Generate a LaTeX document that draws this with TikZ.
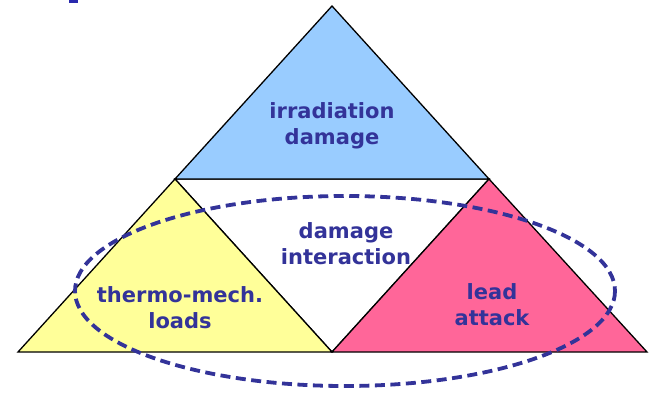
\documentclass[tikz,border=0pt]{standalone}
\usepackage{fontspec}
\setmainfont{DejaVu Sans}
\definecolor{txtblue}{HTML}{333399}
\definecolor{skyfill}{HTML}{99CCFF}
\definecolor{yelfill}{HTML}{FFFF99}
\definecolor{pinkfill}{HTML}{FF6699}
\tikzset{
  tri/.style={draw=black, line width=1.3pt, line join=miter},
  lbl/.style={text=txtblue, font=\fontsize{21}{26}\selectfont\bfseries, align=center},
  ring/.style={draw=txtblue, line width=3.8pt, dash pattern=on 10pt off 5.5pt}
}
\begin{document}
\begin{tikzpicture}[x=1pt,y=-1pt]
\useasboundingbox (0,0) rectangle (654,393);
\fill[txtblue!80!blue] (69,0) rectangle (78,3);
\coordinate (apex) at (332,6);
\coordinate (lm) at (175,179);
\coordinate (rm) at (489,179);
\coordinate (bl) at (18,352);
\coordinate (bm) at (332,352);
\coordinate (br) at (647,352);
\filldraw[tri, fill=white] (lm) -- (rm) -- (bm) -- cycle;
\filldraw[tri, fill=skyfill] (apex) -- (lm) -- (rm) -- cycle;
\filldraw[tri, fill=yelfill] (lm) -- (bl) -- (bm) -- cycle;
\filldraw[tri, fill=pinkfill] (rm) -- (bm) -- (br) -- cycle;
\node[lbl] (irr) at (332,126) {irradiation\\damage};
\node[lbl] (inter) at (346,244) {damage\\interaction};
\node[lbl] (thermo) at (180,308) {thermo-mech.\\loads};
\node[lbl] (lead) at (492,305) {lead\\attack};
\draw[ring] (345,291) ellipse [x radius=270, y radius=95];
\end{tikzpicture}
\end{document}
